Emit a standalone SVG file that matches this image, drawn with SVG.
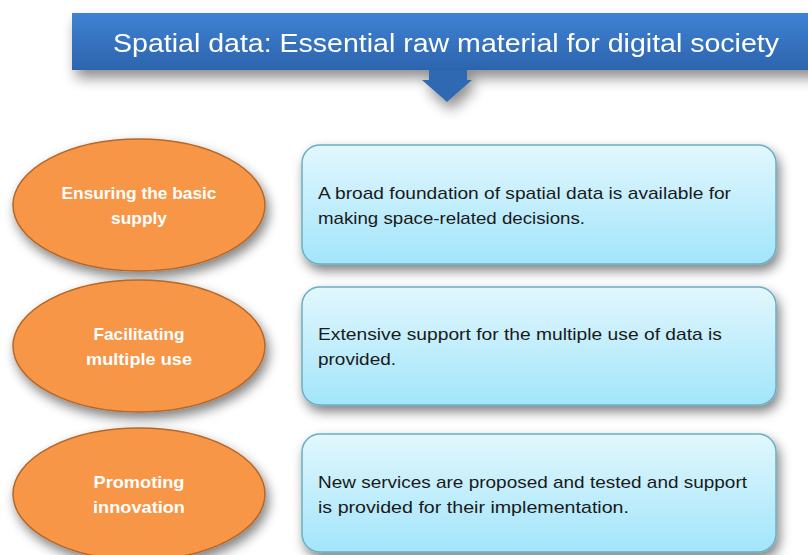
<svg xmlns="http://www.w3.org/2000/svg" width="808" height="555" viewBox="0 0 808 555">
<defs>
<linearGradient id="gBlue" x1="0" y1="0" x2="0" y2="1">
<stop offset="0" stop-color="#3f82d4"/>
<stop offset="1" stop-color="#2c64ad"/>
</linearGradient>
<linearGradient id="gBox" x1="0" y1="0" x2="0" y2="1">
<stop offset="0" stop-color="#e2f7fd"/>
<stop offset="1" stop-color="#a2e5fb"/>
</linearGradient>
<filter id="sh" x="-20%" y="-30%" width="140%" height="170%">
<feGaussianBlur in="SourceAlpha" stdDeviation="7"/>
<feOffset dx="4" dy="8" result="b"/>
<feComponentTransfer><feFuncA type="linear" slope="0.45"/></feComponentTransfer>
<feMerge><feMergeNode/><feMergeNode in="SourceGraphic"/></feMerge>
</filter>
<filter id="shS" x="-20%" y="-30%" width="140%" height="170%">
<feGaussianBlur in="SourceAlpha" stdDeviation="6"/>
<feOffset dx="3" dy="6"/>
<feComponentTransfer><feFuncA type="linear" slope="0.5"/></feComponentTransfer>
<feMerge><feMergeNode/><feMergeNode in="SourceGraphic"/></feMerge>
</filter>
</defs>
<style>
.ell{fill:#f79646;stroke:#b5672a;stroke-width:1.5}
.box{fill:url(#gBox);stroke:#6aaec4;stroke-width:1.5}
.et{font-family:"Liberation Sans",Arial,sans-serif;font-weight:bold;font-size:17px;fill:#ffffff;text-anchor:middle}
.bt{font-family:"Liberation Sans",Arial,sans-serif;font-size:17px;fill:#1a1a1a}
.tt{font-family:"Liberation Sans",Arial,sans-serif;font-size:26px;fill:#ffffff;text-anchor:middle}
</style>
<rect width="808" height="555" fill="#ffffff"/>
<g id="title" filter="url(#sh)">
<rect x="72" y="13" width="745" height="57" fill="url(#gBlue)"/>
<path d="M429,70 H467 V80 H472 L447,102 L422,80 H429 Z" fill="#2f69b2"/>
<text class="tt" x="446" y="52" textLength="666" lengthAdjust="spacingAndGlyphs">Spatial data: Essential raw material for digital society</text>
</g>
<g id="connectors"></g>
<g id="n1">
<ellipse class="ell" cx="139" cy="205" rx="126" ry="66" filter="url(#shS)"/>
<text class="et" x="139" y="199" textLength="155" lengthAdjust="spacingAndGlyphs">Ensuring the basic</text>
<text class="et" x="139" y="224" textLength="56" lengthAdjust="spacingAndGlyphs">supply</text>
</g>
<g id="n2">
<ellipse class="ell" cx="139" cy="346" rx="126" ry="66" filter="url(#shS)"/>
<text class="et" x="139" y="340" textLength="91" lengthAdjust="spacingAndGlyphs">Facilitating</text>
<text class="et" x="139" y="365" textLength="106" lengthAdjust="spacingAndGlyphs">multiple use</text>
</g>
<g id="n3">
<ellipse class="ell" cx="139" cy="494" rx="126" ry="66" filter="url(#shS)"/>
<text class="et" x="139" y="488" textLength="91" lengthAdjust="spacingAndGlyphs">Promoting</text>
<text class="et" x="139" y="513" textLength="92" lengthAdjust="spacingAndGlyphs">innovation</text>
</g>
<g id="b1">
<rect class="box" x="302" y="145" width="474" height="119" rx="18" filter="url(#shS)"/>
<text class="bt" x="318" y="199" textLength="413" lengthAdjust="spacingAndGlyphs">A broad foundation of spatial data is available for</text>
<text class="bt" x="318" y="224" textLength="267" lengthAdjust="spacingAndGlyphs">making space-related decisions.</text>
</g>
<g id="b2">
<rect class="box" x="302" y="287" width="474" height="118" rx="18" filter="url(#shS)"/>
<text class="bt" x="318" y="340" textLength="404" lengthAdjust="spacingAndGlyphs">Extensive support for the multiple use of data is</text>
<text class="bt" x="318" y="365" textLength="78" lengthAdjust="spacingAndGlyphs">provided.</text>
</g>
<g id="b3">
<rect class="box" x="302" y="434" width="474" height="118" rx="18" filter="url(#shS)"/>
<text class="bt" x="318" y="488" textLength="429" lengthAdjust="spacingAndGlyphs">New services are proposed and tested and support</text>
<text class="bt" x="318" y="513" textLength="311" lengthAdjust="spacingAndGlyphs">is provided for their implementation.</text>
</g>
</svg>
